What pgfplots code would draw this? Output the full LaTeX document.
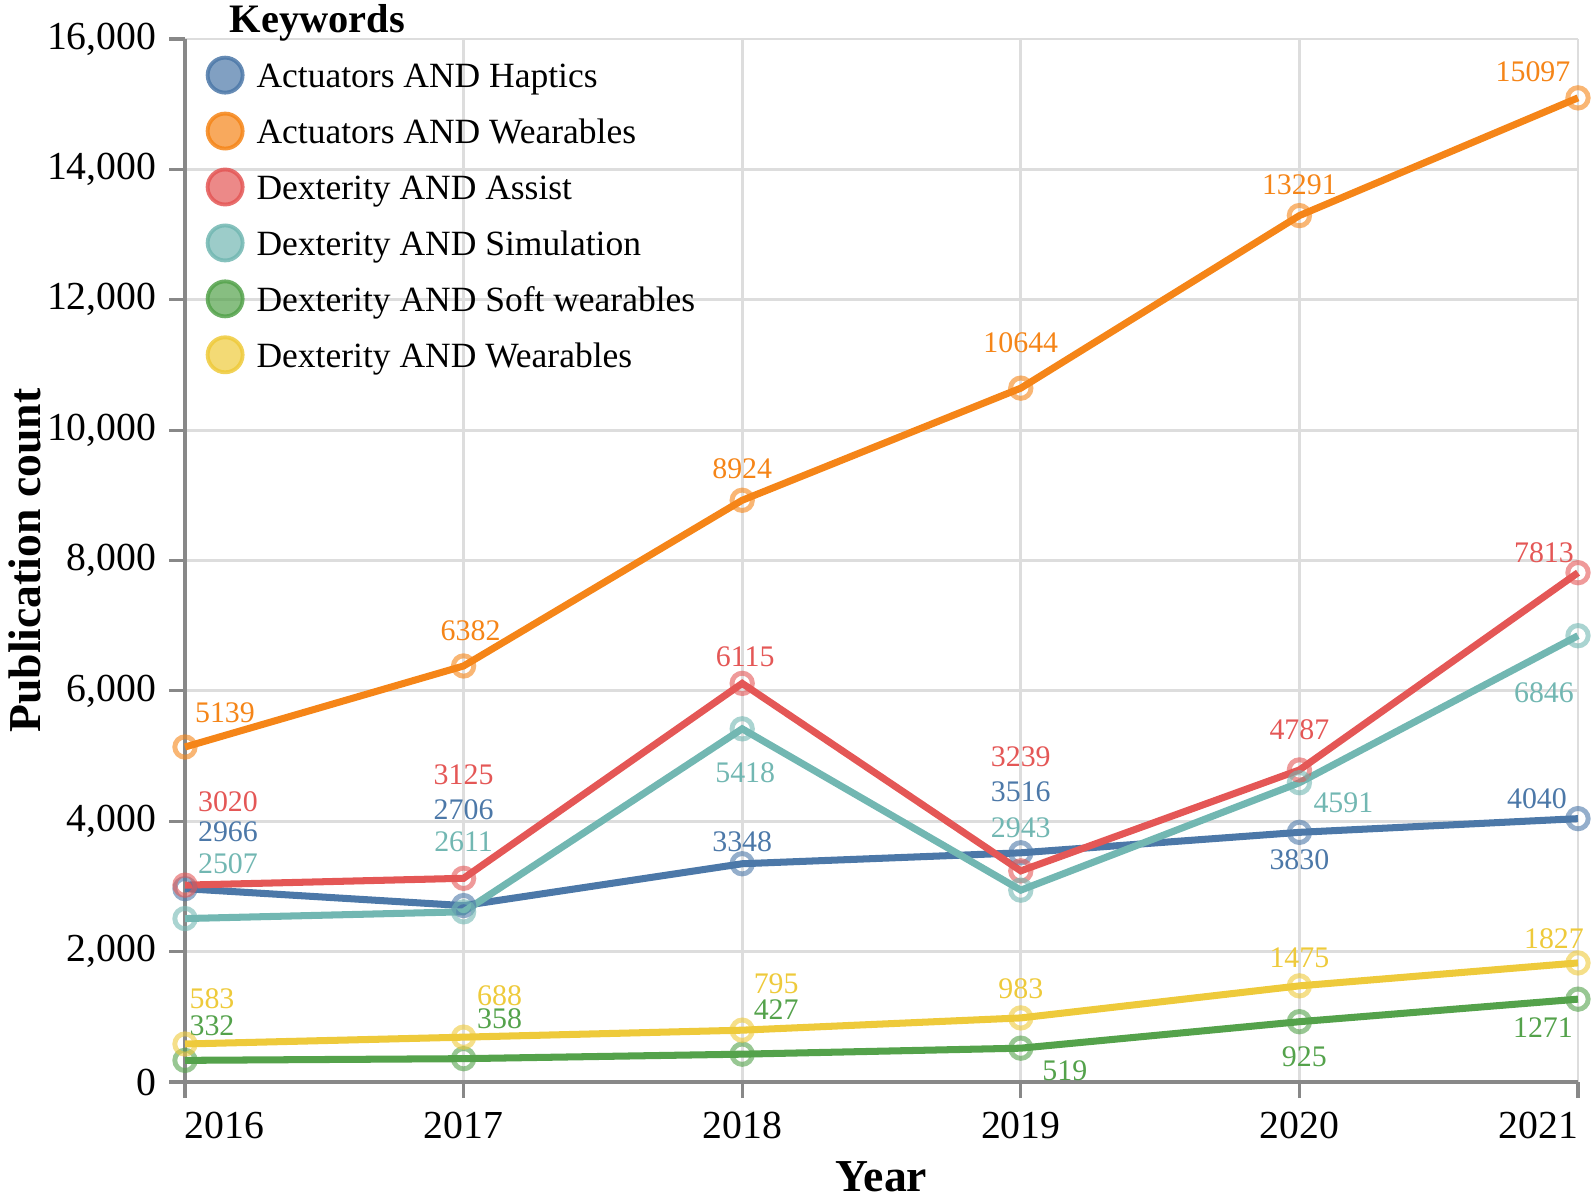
\documentclass[border=0pt]{standalone}
\usepackage{pgfplots}
\pgfplotsset{compat=1.18}
\usepackage{fontspec}
\setmainfont{Liberation Serif}
\definecolor{cblue}{HTML}{4C78A8}
\definecolor{corange}{HTML}{F58518}
\definecolor{cred}{HTML}{E45756}
\definecolor{cteal}{HTML}{72B7B2}
\definecolor{cgreen}{HTML}{54A24B}
\definecolor{cyellow}{HTML}{EECA3B}
\definecolor{axgray}{HTML}{888888}
\definecolor{gridgray}{HTML}{DDDDDD}
\begin{document}
\begin{tikzpicture}
\useasboundingbox (-18.5mm,-11.9mm) rectangle (140.9mm,108.2mm);
\begin{axis}[
  at={(0,0)}, anchor=south west,
  scale only axis, width=139.3mm, height=104.3mm,
  xmin=2016, xmax=2021, ymin=0, ymax=16000,
  clip=false,
  axis lines=left,
  axis line style={-, axgray, line width=0.9pt},
  tick style={axgray, line width=0.9pt},
  tick align=outside,
  major tick length=1.6mm,
  xtick={2016,2017,2018,2019,2020,2021},
  xticklabels={{\makebox[0pt][l]{2016}},2017,2018,2019,2020,{\makebox[0pt][r]{2021}}},
  ytick={0,2000,4000,6000,8000,10000,12000,14000,16000},
  scaled y ticks=false,
  y tick label style={/pgf/number format/1000 sep={,}},
  /pgf/number format/assume math mode=true,
  ticklabel style={font=\fontsize{11.3}{13}\selectfont},
  xticklabel style={anchor=center, yshift=-2.75mm},
  yticklabel style={anchor=east, inner sep=0pt, xshift=-1.2mm},
  grid=major,
  major grid style={gridgray, line width=0.8pt},
  xlabel={\textbf{Year}},
  ylabel={\textbf{Publication count}},
  label style={font=\fontsize{13}{15}\selectfont},
  xlabel style={at={(axis description cs:0.5,0)}, anchor=center, yshift=-9.5mm},
  ylabel style={at={(axis description cs:0,0.5)}, anchor=center, rotate=0, yshift=16mm},
  legend style={at={(axis description cs:0,1)}, anchor=north west, xshift=2.0mm, yshift=-1.6mm,
    draw=none, fill=none, inner sep=0pt, row sep=1.7mm,
    font=\fontsize{10.1}{12}\selectfont,
    nodes={inner sep=0pt, text height=2.6mm, text depth=0.7mm},
    /tikz/every odd column/.append style={column sep=1.2mm}},
  legend cell align=left,
  legend image code/.code={\filldraw[#1, line width=1.1pt, fill opacity=0.7, draw opacity=0.85] (1.8mm,0.3mm) circle (1.75mm);},
  every axis plot/.append style={line width=2pt,
    mark=o, mark size=2.9pt, mark options={solid, line width=1.4pt, draw opacity=0.6}},
]
\addplot[cblue] coordinates {(2016,2966) (2017,2706) (2018,3348) (2019,3516) (2020,3830) (2021,4040)};
\addlegendentry{Actuators AND Haptics}
\addplot[corange] coordinates {(2016,5139) (2017,6382) (2018,8924) (2019,10644) (2020,13291) (2021,15097)};
\addlegendentry{Actuators AND Wearables}
\addplot[cred] coordinates {(2016,3020) (2017,3125) (2018,6115) (2019,3239) (2020,4787) (2021,7813)};
\addlegendentry{Dexterity AND Assist}
\addplot[cteal] coordinates {(2016,2507) (2017,2611) (2018,5418) (2019,2943) (2020,4591) (2021,6846)};
\addlegendentry{Dexterity AND Simulation}
\addplot[cgreen] coordinates {(2016,332) (2017,358) (2018,427) (2019,519) (2020,925) (2021,1271)};
\addlegendentry{Dexterity AND Soft wearables}
\addplot[cyellow] coordinates {(2016,583) (2017,688) (2018,795) (2019,983) (2020,1475) (2021,1827)};
\addlegendentry{Dexterity AND Wearables}

\node[anchor=west, inner sep=0pt, font=\fontsize{11.5}{13}\bfseries] at ([xshift=4.4mm, yshift=1.6mm]axis description cs:0,1) {Keywords};

\tikzset{lbl/.style={inner sep=0pt, anchor=center, font=\fontsize{8.5}{10}\selectfont}}
% orange
\node[lbl, text=corange] at ([shift={(4.0mm,3.4mm)}]axis cs:2016,5139) {5139};
\node[lbl, text=corange] at ([shift={(0.7mm,3.5mm)}]axis cs:2017,6382) {6382};
\node[lbl, text=corange] at ([shift={(0mm,3.2mm)}]axis cs:2018,8924) {8924};
\node[lbl, text=corange] at ([shift={(0mm,4.5mm)}]axis cs:2019,10644) {10644};
\node[lbl, text=corange] at ([shift={(0mm,3.1mm)}]axis cs:2020,13291) {13291};
\node[lbl, text=corange] at ([shift={(-4.5mm,2.6mm)}]axis cs:2021,15097) {15097};
% red
\node[lbl, text=cred] at ([shift={(4.3mm,8.3mm)}]axis cs:2016,3020) {3020};
\node[lbl, text=cred] at ([shift={(0mm,10.4mm)}]axis cs:2017,3125) {3125};
\node[lbl, text=cred] at ([shift={(0.3mm,2.7mm)}]axis cs:2018,6115) {6115};
\node[lbl, text=cred] at ([shift={(0mm,11.4mm)}]axis cs:2019,3239) {3239};
\node[lbl, text=cred] at ([shift={(0mm,4.0mm)}]axis cs:2020,4787) {4787};
\node[lbl, text=cred] at ([shift={(-3.4mm,2.0mm)}]axis cs:2021,7813) {7813};
% blue
\node[lbl, text=cblue] at ([shift={(4.3mm,5.7mm)}]axis cs:2016,2966) {2966};
\node[lbl, text=cblue] at ([shift={(0mm,9.6mm)}]axis cs:2017,2706) {2706};
\node[lbl, text=cblue] at ([shift={(0mm,2.2mm)}]axis cs:2018,3348) {3348};
\node[lbl, text=cblue] at ([shift={(0mm,6.1mm)}]axis cs:2019,3516) {3516};
\node[lbl, text=cblue] at ([shift={(0mm,-2.7mm)}]axis cs:2020,3830) {3830};
\node[lbl, text=cblue] at ([shift={(-4.1mm,2.0mm)}]axis cs:2021,4040) {4040};
% teal
\node[lbl, text=cteal] at ([shift={(4.3mm,5.5mm)}]axis cs:2016,2507) {2507};
\node[lbl, text=cteal] at ([shift={(0mm,7.0mm)}]axis cs:2017,2611) {2611};
\node[lbl, text=cteal] at ([shift={(0.3mm,-4.4mm)}]axis cs:2018,5418) {5418};
\node[lbl, text=cteal] at ([shift={(0mm,6.2mm)}]axis cs:2019,2943) {2943};
\node[lbl, text=cteal] at ([shift={(4.4mm,-2.0mm)}]axis cs:2020,4591) {4591};
\node[lbl, text=cteal] at ([shift={(-3.4mm,-5.7mm)}]axis cs:2021,6846) {6846};
% yellow
\node[lbl, text=cyellow] at ([shift={(2.7mm,4.5mm)}]axis cs:2016,583) {583};
\node[lbl, text=cyellow] at ([shift={(3.6mm,4.1mm)}]axis cs:2017,688) {688};
\node[lbl, text=cyellow] at ([shift={(3.4mm,4.6mm)}]axis cs:2018,795) {795};
\node[lbl, text=cyellow] at ([shift={(0mm,2.9mm)}]axis cs:2019,983) {983};
\node[lbl, text=cyellow] at ([shift={(0mm,2.8mm)}]axis cs:2020,1475) {1475};
\node[lbl, text=cyellow] at ([shift={(-2.4mm,2.4mm)}]axis cs:2021,1827) {1827};
% green
\node[lbl, text=cgreen] at ([shift={(2.7mm,3.5mm)}]axis cs:2016,332) {332};
\node[lbl, text=cgreen] at ([shift={(3.6mm,4.0mm)}]axis cs:2017,358) {358};
\node[lbl, text=cgreen] at ([shift={(3.4mm,4.5mm)}]axis cs:2018,427) {427};
\node[lbl, text=cgreen] at ([shift={(4.4mm,-2.3mm)}]axis cs:2019,519) {519};
\node[lbl, text=cgreen] at ([shift={(0.5mm,-3.5mm)}]axis cs:2020,925) {925};
\node[lbl, text=cgreen] at ([shift={(-3.5mm,-2.8mm)}]axis cs:2021,1271) {1271};
\end{axis}
\end{tikzpicture}
\end{document}
